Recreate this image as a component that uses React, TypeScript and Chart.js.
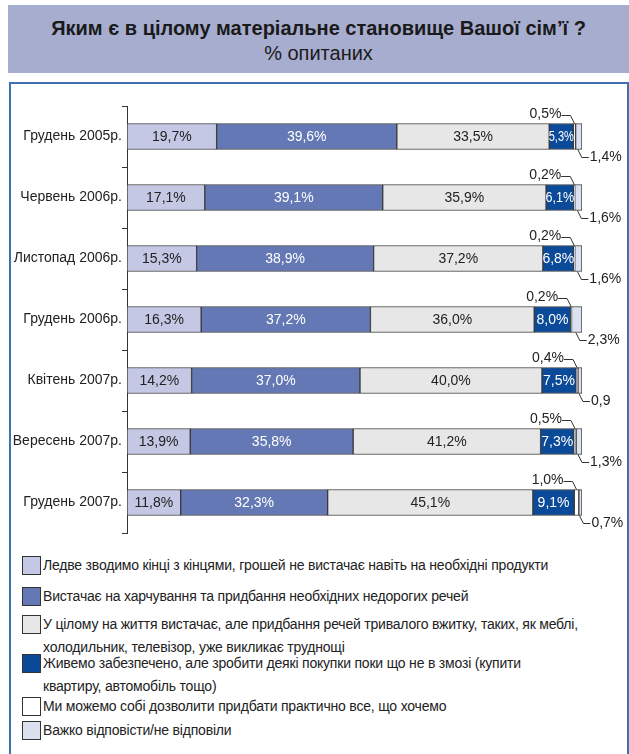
import React, { useEffect, useRef } from "react";
import { Chart, registerables } from "chart.js";

Chart.register(...registerables);

const categories = [
  "Грудень 2005р.",
  "Червень 2006р.",
  "Листопад 2006р.",
  "Грудень 2006р.",
  "Квітень 2007р.",
  "Вересень 2007р.",
  "Грудень 2007р.",
];

const seriesNames = [
  "Ледве зводимо кінці з кінцями, грошей не вистачає навіть на необхідні продукти",
  "Вистачає на харчування та придбання необхідних недорогих речей",
  "У цілому на життя вистачає, але придбання речей тривалого вжитку, таких, як меблі,\nхолодильник, телевізор, уже викликає труднощі",
  "Живемо забезпечено, але зробити деякі покупки поки що не в змозі (купити\nквартиру, автомобіль тощо)",
  "Ми можемо собі дозволити придбати практично все, що хочемо",
  "Важко відповісти/не відповіли",
];

const barelyValues = [19.7, 17.1, 15.3, 16.3, 14.2, 13.9, 11.8];
const foodValues = [39.6, 39.1, 38.9, 37.2, 37.0, 35.8, 32.3];
const generallyValues = [33.5, 35.9, 37.2, 36.0, 40.0, 41.2, 45.1];
const wealthyValues = [5.3, 6.1, 6.8, 8.0, 7.5, 7.3, 9.1];
const everythingValues = [0.5, 0.2, 0.2, 0.2, 0.4, 0.5, 1.0];
const hardValues = [1.4, 1.6, 1.6, 2.3, 0.9, 1.3, 0.7];

// labels in the original that are printed without a percent sign: [series, row]
const noPercentSign = [[5, 4]];

const colors = ["#c4c8e5", "#6478b5", "#e7e7e7", "#0b4a98", "#ffffff", "#dce1ef"];
const insideTextColors = ["#222222", "#ffffff", "#222222", "#ffffff"];

const FONT = '"Liberation Sans", Arial, sans-serif';

function fmt(v: number, ds: number, row: number) {
  const s = v.toFixed(1).replace(".", ",");
  const omit = noPercentSign.some(([d, r]) => d === ds && r === row);
  return omit ? s : s + "%";
}

const labelPlugin = {
  id: "segLabels",
  afterDatasetsDraw(chart: any) {
    const ctx = chart.ctx;
    ctx.save();
    ctx.font = `14px ${FONT}`;
    ctx.textBaseline = "middle";
    chart.data.datasets.forEach((ds: any, di: number) => {
      const meta = chart.getDatasetMeta(di);
      meta.data.forEach((el: any, row: number) => {
        const p = el.getProps(["x", "y", "base", "height"], true);
        const left = Math.min(p.x, p.base);
        const right = Math.max(p.x, p.base);
        const cx = (left + right) / 2;
        const top = p.y - p.height / 2;
        const bottom = p.y + p.height / 2;
        const text = fmt(ds.data[row], di, row);
        if (di <= 3) {
          ctx.fillStyle = insideTextColors[di];
          ctx.textAlign = "center";
          const w = ctx.measureText(text).width;
          const avail = right - left + 1;
          if (w > avail) ctx.fillText(text, cx, p.y + 1, avail);
          else ctx.fillText(text, cx, p.y + 1);
        } else if (di === 4) {
          ctx.strokeStyle = "#333";
          ctx.lineWidth = 1;
          ctx.beginPath();
          ctx.moveTo(cx, top);
          ctx.lineTo(cx - 4, top - 8);
          ctx.lineTo(cx - 13, top - 8);
          ctx.stroke();
          ctx.fillStyle = "#222";
          ctx.textAlign = "right";
          ctx.fillText(text, cx - 13, top - 9);
        } else {
          ctx.strokeStyle = "#333";
          ctx.lineWidth = 1;
          ctx.beginPath();
          ctx.moveTo(cx - 1, bottom);
          ctx.lineTo(cx + 3, bottom + 8);
          ctx.lineTo(cx + 10, bottom + 8);
          ctx.stroke();
          ctx.fillStyle = "#222";
          ctx.textAlign = "left";
          ctx.fillText(text, cx + 11, bottom + 8);
        }
      });
    });
    ctx.restore();
  },
};

function ChartCanvas() {
  const ref = useRef<HTMLCanvasElement | null>(null);
  useEffect(() => {
    if (!ref.current) return;
    const allValues = [barelyValues, foodValues, generallyValues, wealthyValues, everythingValues, hardValues];
    const chart = new Chart(ref.current, {
      type: "bar",
      data: {
        labels: categories,
        datasets: allValues.map((vals, i) => ({
          label: seriesNames[i],
          data: vals,
          backgroundColor: colors[i],
          borderColor: "#3a3a3a",
          borderWidth: 1,
          borderSkipped: false,
          barThickness: 26,
        })),
      },
      options: {
        indexAxis: "y",
        responsive: false,
        animation: false,
        devicePixelRatio: 1,
        layout: { padding: { top: 106, bottom: 12, left: 0, right: 47 } },
        plugins: { legend: { display: false }, tooltip: { enabled: false }, title: { display: false } },
        scales: {
          x: { stacked: true, min: 0, max: 100, display: false },
          y: {
            stacked: true,
            afterFit: (s: any) => {
              s.width = 127;
            },
            border: { display: true, color: "#333", width: 1 },
            grid: {
              offset: true,
              drawOnChartArea: false,
              drawTicks: true,
              tickLength: 5,
              color: "#333",
            },
            ticks: {
              padding: 0,
              color: "#222",
              font: { family: FONT, size: 14 },
            },
          },
        },
      },
      plugins: [labelPlugin],
    } as any);
    return () => chart.destroy();
  }, []);
  return (
    <canvas
      ref={ref}
      width={629}
      height={545}
      style={{ position: "absolute", left: 0, top: 0, width: 629, height: 545 }}
    />
  );
}

const legendTops = [556, 587, 615, 654, 697, 721];

export default function App() {
  return (
    <div
      style={{
        position: "absolute",
        left: 0,
        top: 0,
        width: 629,
        height: 754,
        overflow: "hidden",
        background: "#ffffff",
        fontFamily: FONT,
      }}
    >
      <div
        style={{
          position: "absolute",
          left: 8,
          top: 5,
          width: 621,
          height: 68,
          background: "#a7adcf",
          textAlign: "center",
          color: "#1a1a1a",
        }}
      >
        <div style={{ position: "absolute", left: 0, right: 0, top: 11, fontSize: 20, fontWeight: "bold", lineHeight: "24px" }}>
          Яким є в цілому матеріальне становище Вашої сім’ї ?
        </div>
        <div style={{ position: "absolute", left: 0, right: 0, top: 36, fontSize: 20, lineHeight: "24px" }}>
          % опитаних
        </div>
      </div>
      <div
        style={{
          position: "absolute",
          left: 9,
          top: 82,
          width: 616,
          height: 720,
          border: "2px solid #3f70b2",
          boxSizing: "content-box",
        }}
      />
      <ChartCanvas />
      {seriesNames.map((name, i) => (
        <div key={i} style={{ position: "absolute", left: 22, top: legendTops[i], width: 590 }}>
          <div
            style={{
              position: "absolute",
              left: 0,
              top: 0,
              width: 17,
              height: 17,
              background: colors[i],
              border: "1px solid #333",
            }}
          />
          <div
            style={{
              position: "absolute",
              left: 21,
              top: -2,
              width: 570,
              fontSize: 14,
              letterSpacing: "-0.2px",
              lineHeight: "23px",
              color: "#222",
              whiteSpace: "pre-line",
            }}
          >
            {name}
          </div>
        </div>
      ))}
    </div>
  );
}
